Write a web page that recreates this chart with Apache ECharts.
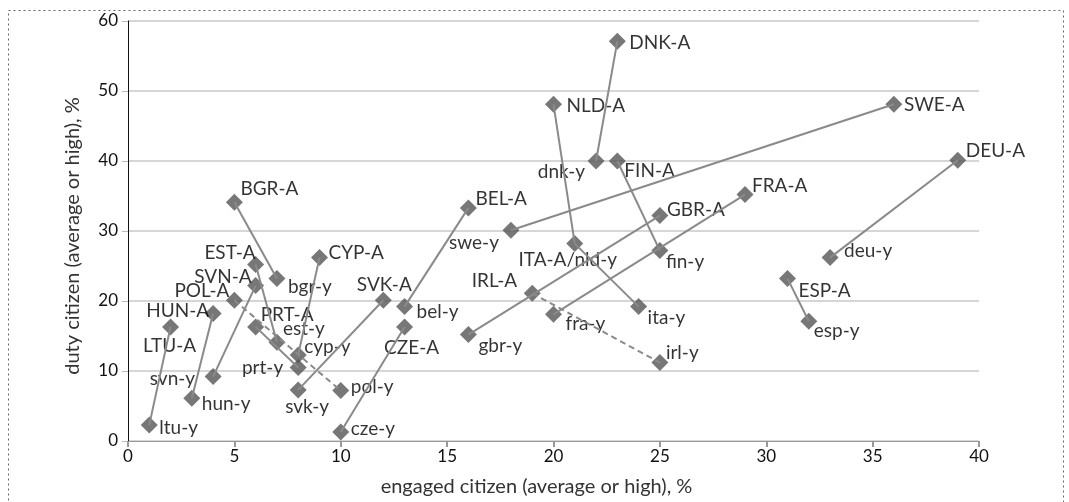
<!DOCTYPE html>
<html>
<head>
<meta charset="utf-8">
<script src="https://cdn.jsdelivr.net/npm/echarts@6/dist/echarts.min.js"></script>
<style>
  html, body { margin: 0; padding: 0; background: #fff; }
  #main { width: 1069px; height: 502px; }
</style>
</head>
<body>
<div id="main"></div>
<script>
// points: country-A (adults) and country-y (youth)
const pointNames = [
  'DNK-A', 'dnk-y', 'NLD-A', 'ITA-A/nld-y', 'ita-y', 'FIN-A', 'fin-y',
  'SWE-A', 'swe-y', 'DEU-A', 'deu-y', 'ESP-A', 'esp-y', 'FRA-A', 'fra-y',
  'GBR-A', 'gbr-y', 'IRL-A', 'irl-y', 'BEL-A', 'bel-y', 'CZE-A', 'cze-y',
  'SVK-A', 'svk-y', 'BGR-A', 'bgr-y', 'CYP-A', 'cyp-y', 'EST-A', 'est-y',
  'SVN-A', 'svn-y', 'POL-A', 'pol-y', 'HUN-A', 'hun-y', 'LTU-A', 'ltu-y',
  'PRT-A', 'prt-y'
];
const engaged = [
  23, 22, 20, 21, 24, 23, 25,
  36, 18, 39, 33, 31, 32, 29, 20,
  25, 16, 19, 25, 16, 13, 13, 10,
  12, 8, 5, 7, 9, 8, 6, 7,
  6, 4, 5, 10, 4, 3, 2, 1,
  6, 8
];
const duty = [
  57.1, 40, 48.1, 28.2, 19.2, 40, 27.2,
  48.1, 30.1, 40.1, 26.2, 23.2, 17.1, 35.2, 18.1,
  32.2, 15.2, 21.1, 11.2, 33.3, 19.2, 16.3, 1.3,
  20.1, 7.3, 34.1, 23.2, 26.2, 12.3, 25.2, 14.1,
  22.2, 9.2, 20.1, 7.2, 18.2, 6.1, 16.3, 2.3,
  16.3, 10.5
];
const links = [
  ['DNK-A', 'dnk-y'], ['NLD-A', 'ITA-A/nld-y'], ['ITA-A/nld-y', 'ita-y'],
  ['FIN-A', 'fin-y'], ['SWE-A', 'swe-y'], ['DEU-A', 'deu-y'], ['ESP-A', 'esp-y'],
  ['FRA-A', 'fra-y'], ['GBR-A', 'gbr-y'], ['BEL-A', 'bel-y'], ['CZE-A', 'cze-y'],
  ['SVK-A', 'svk-y'], ['BGR-A', 'bgr-y'], ['CYP-A', 'cyp-y'], ['EST-A', 'est-y'],
  ['SVN-A', 'svn-y'], ['HUN-A', 'hun-y'], ['LTU-A', 'ltu-y'], ['PRT-A', 'prt-y']
];
const dashedLinks = [['IRL-A', 'irl-y'], ['POL-A', 'pol-y']];

// label placement: [dx, dy, align] from the marker centre
const labelPlace = {
  'DNK-A': [12, 2, 'left'], 'dnk-y': [-11, 11, 'right'], 'NLD-A': [13, 2, 'left'],
  'ITA-A/nld-y': [-7, 16, 'center'], 'ita-y': [9, 11, 'left'], 'FIN-A': [7, 10, 'left'],
  'fin-y': [6, 11, 'left'], 'SWE-A': [10, 1, 'left'], 'swe-y': [-12, 13, 'right'],
  'DEU-A': [8, -9, 'left'], 'deu-y': [14, -7, 'left'], 'ESP-A': [11, 12, 'left'],
  'esp-y': [5, 10, 'left'], 'FRA-A': [7, -9, 'left'], 'fra-y': [12, 10, 'left'],
  'GBR-A': [7, -6, 'left'], 'gbr-y': [10, 11, 'left'], 'IRL-A': [-15, -12, 'right'],
  'irl-y': [6, -10, 'left'], 'BEL-A': [7, -9, 'left'], 'bel-y': [12, 5, 'left'],
  'CZE-A': [7, 21, 'center'], 'cze-y': [10, -3, 'left'], 'SVK-A': [1, -15, 'center'],
  'svk-y': [-13, 17, 'left'], 'BGR-A': [6, -13, 'left'], 'bgr-y': [11, 8, 'left'],
  'CYP-A': [9, -5, 'left'], 'cyp-y': [6, -8, 'left'], 'EST-A': [0, -12, 'right'],
  'est-y': [6, -13, 'left'], 'SVN-A': [-4, -9, 'right'], 'svn-y': [-18, 2, 'right'],
  'POL-A': [-5, -9, 'right'], 'pol-y': [10, -4, 'left'], 'HUN-A': [-4, -3, 'right'],
  'hun-y': [10, 6, 'left'], 'LTU-A': [-1, 19, 'center'], 'ltu-y': [10, 3, 'left'],
  'PRT-A': [5, -12, 'left'], 'prt-y': [-15, 0, 'right']
};

const FONT = 'Lato';
const SYM = 17;
const pt = name => {
  const i = pointNames.indexOf(name);
  return [engaged[i], duty[i]];
};

const scatterData = pointNames.map((name, i) => {
  const p = labelPlace[name] || [10, 0, 'left'];
  return {
    name: name,
    value: [engaged[i], duty[i]],
    label: { position: [SYM / 2 + p[0], SYM / 2 + p[1]], align: p[2], verticalAlign: 'middle' }
  };
});

const lineSeries = [];
links.forEach(l => lineSeries.push({
  type: 'line', data: [pt(l[0]), pt(l[1])], symbol: 'none', z: 5, silent: true,
  lineStyle: { color: '#8a8a8a', width: 2 }
}));
dashedLinks.forEach(l => lineSeries.push({
  type: 'line', data: [pt(l[0]), pt(l[1])], symbol: 'none', z: 5, silent: true,
  lineStyle: { color: '#8a8a8a', width: 2, type: [6, 4] }
}));

const myChart = echarts.init(document.getElementById('main'));

const option = {
  animation: false,
  textStyle: { fontFamily: FONT },
  grid: { left: 128, right: 90, top: 21, bottom: 58 },
  graphic: [{
    type: 'rect',
    shape: { x: 8.5, y: 10.5, width: 1055, height: 520 },
    style: { fill: 'none', stroke: '#666', lineWidth: 1, lineDash: [2, 3] },
    silent: true
  }],
  xAxis: {
    type: 'value', min: 0, max: 40, interval: 5,
    name: 'engaged citizen (average or high), %',
    nameLocation: 'middle', nameGap: 36,
    nameTextStyle: { fontSize: 20, color: '#333', fontFamily: FONT, padding: [0, 34, 0, 0] },
    axisLine: { lineStyle: { color: '#999', width: 1 } },
    axisTick: { show: true, length: 6, lineStyle: { color: '#999', width: 2 } },
    axisLabel: { fontSize: 17, color: '#111', margin: 7, fontFamily: FONT },
    splitLine: { show: false }
  },
  yAxis: {
    type: 'value', min: 0, max: 60, interval: 10,
    name: 'duty citizen (average or high), %',
    nameLocation: 'middle', nameGap: 45,
    nameTextStyle: { fontSize: 20, color: '#333', fontFamily: FONT, padding: [0, 10, 0, 0] },
    axisLine: { show: true, lineStyle: { color: '#111', width: 1 } },
    axisTick: { show: true, length: 6, lineStyle: { color: '#bbb', width: 1 } },
    axisLabel: { fontSize: 17, color: '#111', margin: 10, fontFamily: FONT },
    splitLine: { show: true, lineStyle: { color: '#c8c8c8', width: 1.5 } }
  },
  series: [{
    type: 'scatter',
    data: scatterData,
    symbol: 'diamond',
    symbolSize: SYM,
    z: 3,
    itemStyle: { color: '#555' },
    label: {
      show: true,
      formatter: '{b}',
      color: '#000',
      fontSize: 19,
      fontFamily: FONT,
      textBorderWidth: 0
    },
    labelLayout: { hideOverlap: false }
  }].concat(lineSeries)
};

myChart.setOption(option);
</script>
</body>
</html>
